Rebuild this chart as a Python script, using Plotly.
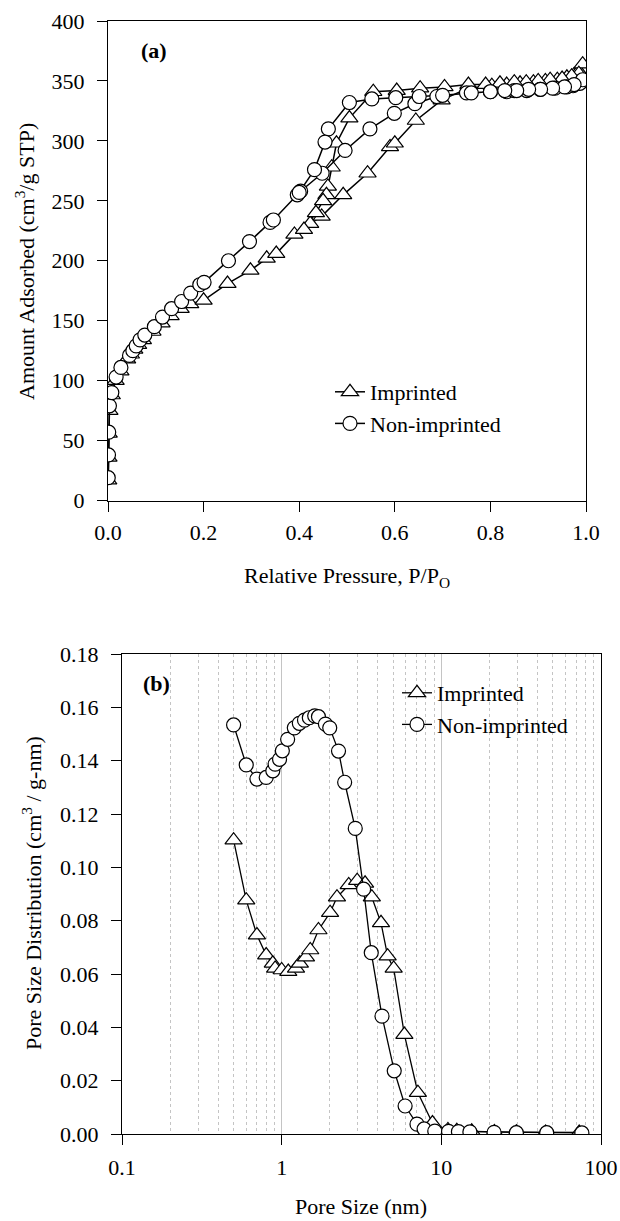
import plotly.graph_objects as go

# ---------------- Data: (a) N2 isotherms ----------------
imp_p = [0.0005, 0.001, 0.0015, 0.003, 0.008, 0.016, 0.026, 0.04, 0.048, 0.055, 0.063, 0.073,
         0.093, 0.112, 0.131, 0.152, 0.172, 0.2, 0.25, 0.298, 0.332, 0.352, 0.39, 0.423, 0.447,
         0.492, 0.543, 0.59, 0.6, 0.644, 0.698, 0.753, 0.803, 0.834, 0.862, 0.89, 0.915, 0.94,
         0.96, 0.975, 0.985, 0.993,
         0.985, 0.97, 0.95, 0.925, 0.90, 0.875, 0.85, 0.82, 0.79, 0.754, 0.704, 0.653, 0.604,
         0.555, 0.505, 0.478, 0.468, 0.46, 0.457, 0.45, 0.435, 0.41]
imp_v = [17, 36, 56, 75, 88, 100, 108, 118, 122, 126, 130, 134,
         141, 148, 154, 160, 164, 167, 181, 192, 202, 206, 222, 231, 237,
         255, 273, 295, 298, 317, 334, 344, 346, 347, 348, 349, 350, 351,
         353, 355, 358, 364,
         356, 354, 352, 351, 350, 349, 349, 348, 347, 347, 345, 344, 342,
         341, 319, 298, 278, 262, 255, 250, 240, 226]

non_p = [0.0005, 0.001, 0.0015, 0.003, 0.008, 0.017, 0.027, 0.045, 0.052, 0.059, 0.067, 0.077,
         0.097, 0.114, 0.133, 0.154, 0.173, 0.192, 0.201, 0.252, 0.296, 0.339, 0.346, 0.396,
         0.403, 0.448, 0.496, 0.548, 0.599, 0.642, 0.688, 0.75, 0.80, 0.834, 0.85, 0.876, 0.904,
         0.935, 0.96, 0.973, 0.987, 0.993,
         0.975, 0.955, 0.93, 0.905, 0.88, 0.855, 0.83, 0.80, 0.76, 0.70, 0.651, 0.602, 0.552,
         0.505, 0.461, 0.454, 0.432, 0.40]
non_v = [19, 38, 57, 79, 90, 103, 111, 121, 125, 129, 134, 138,
         145, 153, 160, 166, 173, 180, 182, 200, 216, 232, 234, 255,
         258, 273, 292, 310, 323, 331, 337, 340, 341, 341, 342, 342, 343,
         344, 345, 346, 348, 351,
         347, 345, 344, 343, 343, 342, 342, 341, 340, 338, 337, 336, 335,
         332, 310, 299, 276, 257]

# ---------------- Data: (b) pore size distribution ----------------
imp_d = [0.50, 0.60, 0.70, 0.80, 0.88, 0.91, 1.00, 1.10, 1.23, 1.30, 1.42, 1.51, 1.70, 2.01,
         2.22, 2.63, 2.97, 3.33, 3.67, 4.19, 4.61, 5.03, 5.87, 7.13, 8.8, 11.0, 12.5, 15.5,
         21.5, 29.5, 45.0, 73.0]
imp_psd = [0.1102, 0.0877, 0.0746, 0.0671, 0.0640, 0.0621, 0.0615, 0.0609, 0.0621, 0.0640,
           0.0663, 0.0690, 0.0765, 0.0830, 0.0888, 0.0934, 0.0950, 0.0940, 0.0888, 0.0792,
           0.0667, 0.0621, 0.0373, 0.0155, 0.0041, 0.0015, 0.0012, 0.0010, 0.0008, 0.0007,
           0.0006, 0.0006]

non_d = [0.50, 0.60, 0.70, 0.80, 0.88, 0.91, 0.97, 1.01, 1.09, 1.20, 1.29, 1.39, 1.49, 1.61,
         1.70, 1.88, 2.00, 2.27, 2.48, 2.89, 3.26, 3.64, 4.25, 5.07, 5.93, 7.04, 7.8, 9.1,
         11.1, 12.8, 15.1, 21.4, 29.5, 45.7, 75.9]
non_psd = [0.1534, 0.1384, 0.1331, 0.1337, 0.1362, 0.1387, 0.1405, 0.1437, 0.1480, 0.1523,
           0.1540, 0.1552, 0.1561, 0.1568, 0.1565, 0.1537, 0.1523, 0.1436, 0.1319, 0.1146,
           0.0918, 0.0680, 0.0442, 0.0237, 0.0105, 0.0037, 0.0019, 0.0011, 0.0010, 0.0009,
           0.0008, 0.0006, 0.0005, 0.0005, 0.0004]

series_names = ["Imprinted", "Non-imprinted"]

FONT = "Liberation Serif"
W, H = 620, 1221
FS = 22

def px_x(p):
    return p / W

def px_y(p):
    return 1 - p / H

fig = go.Figure()

tri = dict(symbol="triangle-up", size=15, color="white", line=dict(color="black", width=1.2))
cir = dict(symbol="circle", size=14, color="white", line=dict(color="black", width=1.2))
ln = dict(color="black", width=1.5)

fig.add_trace(go.Scatter(x=imp_p, y=imp_v, mode="lines+markers", name=series_names[0],
                         marker=tri, line=ln, xaxis="x", yaxis="y", legend="legend"))
fig.add_trace(go.Scatter(x=non_p, y=non_v, mode="lines+markers", name=series_names[1],
                         marker=cir, line=ln, xaxis="x", yaxis="y", legend="legend"))
fig.add_trace(go.Scatter(x=imp_d, y=imp_psd, mode="lines+markers", name=series_names[0],
                         marker=tri, line=dict(color="black", width=1.3), xaxis="x2", yaxis="y2",
                         legend="legend2"))
fig.add_trace(go.Scatter(x=non_d, y=non_psd, mode="lines+markers", name=series_names[1],
                         marker=cir, line=dict(color="black", width=1.3), xaxis="x2", yaxis="y2",
                         legend="legend2"))

axis_common = dict(showline=True, linecolor="black", linewidth=1.3, mirror=True,
                   ticks="outside", ticklen=10, tickcolor="black", tickwidth=1.3,
                   zeroline=False, automargin=False,
                   tickfont=dict(family=FONT, size=FS, color="black"))

fig.update_layout(
    width=W, height=H,
    margin=dict(l=0, r=0, t=0, b=0, autoexpand=False),
    paper_bgcolor="white", plot_bgcolor="white",
    font=dict(family=FONT, size=FS, color="black"),
    xaxis=dict(domain=[px_x(108), px_x(586)], range=[0, 1], dtick=0.2, tickformat=".1f",
               showgrid=False, anchor="y", ticklabelstandoff=2, **axis_common),
    yaxis=dict(domain=[px_y(500.5), px_y(21)], range=[0, 400], dtick=50,
               showgrid=False, anchor="x", ticklabelstandoff=8, **axis_common),
    xaxis2=dict(domain=[px_x(122), px_x(601)], type="log", range=[-1, 2], dtick=1,
                showgrid=True, gridcolor="#c4c4c4", gridwidth=1,
                minor=dict(dtick="D1", showgrid=True, gridcolor="#c4c4c4", griddash="dot",
                           gridwidth=1, ticks=""),
                anchor="y2", ticklabelstandoff=3, **axis_common),
    yaxis2=dict(domain=[px_y(1134), px_y(654)], range=[0, 0.18], dtick=0.02, tickformat=".2f",
                showgrid=False, anchor="x2", ticklabelstandoff=8, **axis_common),
    legend=dict(x=px_x(330), y=px_y(371), xanchor="left", yanchor="top",
                bgcolor="rgba(0,0,0,0)", font=dict(family=FONT, size=FS),
                tracegroupgap=0, itemsizing="trace"),
    legend2=dict(x=px_x(397), y=px_y(672), xanchor="left", yanchor="top",
                 bgcolor="rgba(0,0,0,0)", font=dict(family=FONT, size=FS),
                 tracegroupgap=0, itemsizing="trace"),
    showlegend=True,
)

annos = [
    dict(text="<b>(a)</b>", x=px_x(139), y=px_y(50), xanchor="left", yanchor="middle"),
    dict(text="<b>(b)</b>", x=px_x(141), y=px_y(683), xanchor="left", yanchor="middle"),
    dict(text="Amount Adsorbed (cm<sup>3</sup>/g STP)", x=px_x(25), y=px_y(262),
         textangle=-90, xanchor="center", yanchor="middle"),
    dict(text="Relative Pressure, P/P<sub>O</sub>", x=px_x(347), y=px_y(577),
         xanchor="center", yanchor="middle"),
    dict(text="Pore Size Distribution (cm<sup>3</sup> / g-nm)", x=px_x(32), y=px_y(893),
         textangle=-90, xanchor="center", yanchor="middle"),
    dict(text="Pore Size (nm)", x=px_x(361), y=px_y(1206), xanchor="center", yanchor="middle"),
]
for a in annos:
    fig.add_annotation(xref="paper", yref="paper", showarrow=False,
                       font=dict(family=FONT, size=FS, color="black"), **a)

fig.write_html("out.html")
